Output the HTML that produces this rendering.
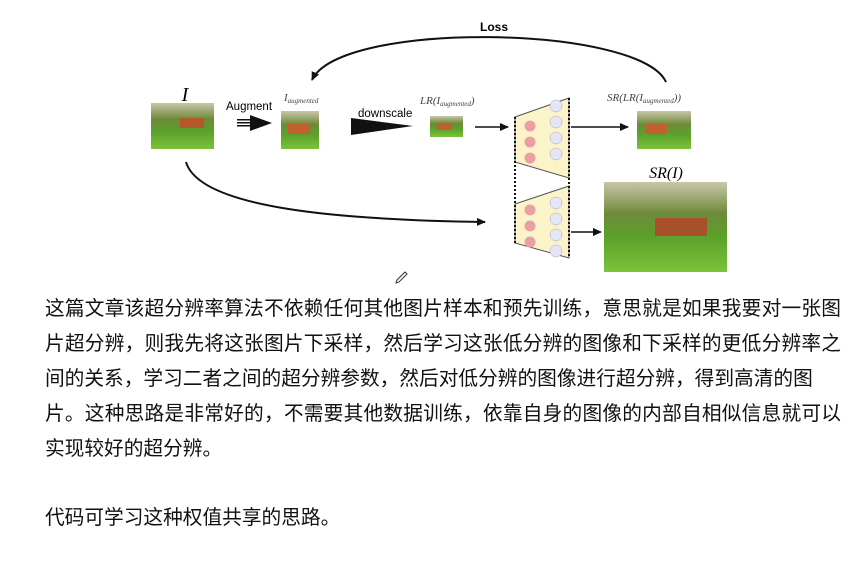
<!DOCTYPE html>
<html><head><meta charset="utf-8"><style>
body{margin:0;background:#fff;width:864px;height:561px;overflow:hidden;position:relative}
.t{position:absolute;left:45px;font-family:"Noto Sans CJK SC","Liberation Sans",sans-serif;font-size:19.7px;color:#111;white-space:nowrap;line-height:35px}
.j{width:796px;text-align:justify;text-align-last:justify;white-space:normal;overflow:hidden;height:35px}
</style></head><body>
<svg width="864" height="290" style="position:absolute;left:0;top:0" xmlns="http://www.w3.org/2000/svg">
<defs>
<linearGradient id="g" x1="0" y1="0" x2="0" y2="1"><stop offset="0" stop-color="#c8c7a8"/><stop offset="0.35" stop-color="#6f8a3a"/><stop offset="0.6" stop-color="#5aa02a"/><stop offset="1" stop-color="#7cc23a"/></linearGradient>
<marker id="a" markerUnits="userSpaceOnUse" markerWidth="9" markerHeight="8" refX="8" refY="4" orient="auto"><path d="M0,0L9,4L0,8z" fill="#111"/></marker>
</defs>
<text x="494" y="31" font-family="Liberation Sans" font-weight="bold" font-size="12" text-anchor="middle">Loss</text>
<path d="M666,82 C640,25 340,20 312,80" fill="none" stroke="#111" stroke-width="2" marker-end="url(#a)"/>
<path d="M186,162 C200,210 350,220 485,222" fill="none" stroke="#111" stroke-width="2" marker-end="url(#a)"/>
<text x="185" y="101" font-family="Liberation Serif" font-style="italic" font-size="20" text-anchor="middle">I</text>
<rect x="151" y="103" width="63" height="46" fill="url(#g)"/><rect x="180" y="118" width="24" height="10" fill="#b4582a"/>
<text x="226" y="110" font-family="Liberation Sans" font-size="11.5">Augment</text>
<rect x="237" y="119" width="14" height="1.5" fill="#111"/><rect x="237" y="122" width="14" height="1.5" fill="#111"/><rect x="237" y="125" width="14" height="1.5" fill="#111"/>
<path d="M250,115L272,123L250,131z" fill="#111"/>
<text x="284" y="101" font-family="Liberation Serif" font-style="italic" font-size="11" fill="#444">I<tspan font-size="7" dy="2">augmented</tspan></text>
<rect x="281" y="111" width="38" height="38" fill="url(#g)"/><rect x="288" y="124" width="22" height="10" fill="#c0602a"/>
<text x="358" y="117" font-family="Liberation Sans" font-size="11.5">downscale</text>
<path d="M351,118L413,126L351,135z" fill="#111"/>
<text x="420" y="104" font-family="Liberation Serif" font-style="italic" font-size="11" fill="#444">LR(I<tspan font-size="7" dy="2">augmented</tspan><tspan dy="-2">)</tspan></text>
<rect x="430" y="116" width="33" height="21" fill="url(#g)"/><rect x="437" y="124" width="14" height="6" fill="#c0602a"/>
<line x1="475" y1="127" x2="508" y2="127" stroke="#111" stroke-width="1.5" marker-end="url(#a)"/>
<path d="M515,117L569,98L569,178L515,162z" fill="#fbf4c8" stroke="#555" stroke-width="1"/>
<path d="M515,204L569,186L569,258L515,243z" fill="#fbf4c8" stroke="#555" stroke-width="1"/>
<line x1="515" y1="117" x2="515" y2="243" stroke="#111" stroke-width="2" stroke-dasharray="2,2"/>
<line x1="569" y1="98" x2="569" y2="258" stroke="#111" stroke-width="2" stroke-dasharray="2,2"/>
<g fill="#eaa0a0"><circle cx="530" cy="126" r="5.5"/><circle cx="530" cy="142" r="5.5"/><circle cx="530" cy="158" r="5.5"/><circle cx="530" cy="210" r="5.5"/><circle cx="530" cy="226" r="5.5"/><circle cx="530" cy="242" r="5.5"/></g>
<g fill="#e4e6f8" stroke="#aab" stroke-width="0.5"><circle cx="556" cy="106" r="6"/><circle cx="556" cy="122" r="6"/><circle cx="556" cy="138" r="6"/><circle cx="556" cy="154" r="6"/><circle cx="556" cy="203" r="6"/><circle cx="556" cy="219" r="6"/><circle cx="556" cy="235" r="6"/><circle cx="556" cy="251" r="6"/></g>
<line x1="571" y1="127" x2="628" y2="127" stroke="#111" stroke-width="1.5" marker-end="url(#a)"/>
<line x1="571" y1="232" x2="601" y2="232" stroke="#111" stroke-width="1.5" marker-end="url(#a)"/>
<text x="607" y="101" font-family="Liberation Serif" font-style="italic" font-size="11" fill="#444">SR(LR(I<tspan font-size="7" dy="2">augmented</tspan><tspan dy="-2">))</tspan></text>
<rect x="637" y="111" width="54" height="38" fill="url(#g)"/><rect x="645" y="124" width="22" height="10" fill="#c0602a"/>
<text x="666" y="178" font-family="Liberation Serif" font-style="italic" font-size="16" text-anchor="middle">SR(I)</text>
<rect x="604" y="182" width="123" height="90" fill="url(#g)"/><rect x="655" y="218" width="52" height="18" fill="#a8502a"/>
<path d="M397,280l8,-8l2,2l-8,8l-3,1z" fill="none" stroke="#333" stroke-width="1"/>
</svg>
<div class="t j" style="top:289px">这篇文章该超分辨率算法不依赖任何其他图片样本和预先训练，意思就是如果我要对一张图</div>
<div class="t j" style="top:324px">片超分辨，则我先将这张图片下采样，然后学习这张低分辨的图像和下采样的更低分辨率之</div>
<div class="t" style="top:359px">间的关系，学习二者之间的超分辨参数，然后对低分辨的图像进行超分辨，得到高清的图</div>
<div class="t j" style="top:394px">片。这种思路是非常好的，不需要其他数据训练，依靠自身的图像的内部自相似信息就可以</div>
<div class="t" style="top:429px">实现较好的超分辨。</div>
<div class="t" style="top:498px">代码可学习这种权值共享的思路。</div>
</body></html>
